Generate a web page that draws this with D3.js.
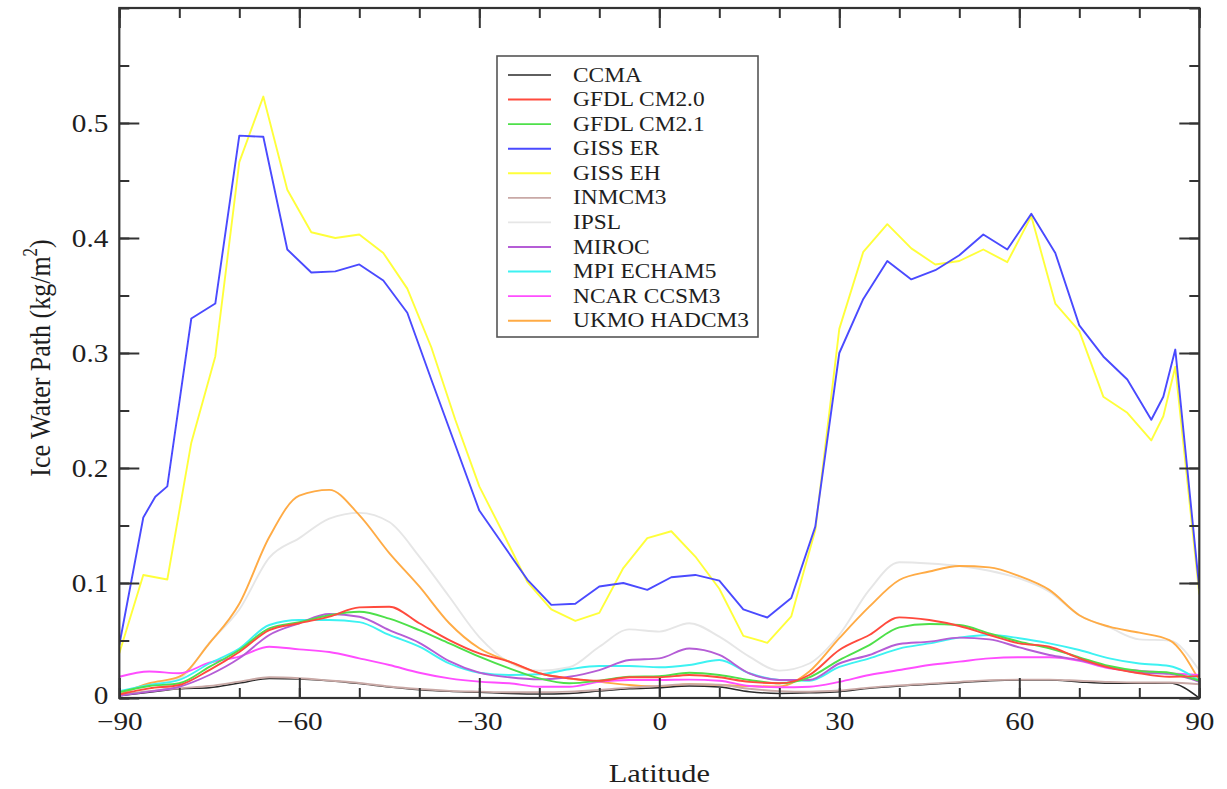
<!DOCTYPE html>
<html>
<head>
<meta charset="utf-8">
<script src="https://cdn.jsdelivr.net/npm/d3@7"></script>
<style>
  html, body { margin: 0; padding: 0; background: #fff; }
  svg { display: block; }
  text { font-family: "Liberation Serif", "Times New Roman", serif; fill: #1e1e1e; }
</style>
</head>
<body>
<script>
// Latitude grids (degrees)
const latGISS = [-90,-86,-84,-82,-78,-74,-70,-66,-62,-58,-54,-50,-46,-42,-38,-34,-30,-26,-22,-18,-14,-10,-6,-2,
                 2,6,10,14,18,22,26,30,34,38,42,46,50,54,58,62,66,70,74,78,82,84,86,90];
const lat5 = [-90,-85,-80,-75,-70,-65,-60,-55,-50,-45,-40,-35,-30,-25,-20,-15,-10,-5,0,
              5,10,15,20,25,30,35,40,45,50,55,60,65,70,75,80,85,90];

// Zonal mean ice water path (kg/m^2)
const giss_er = [0.046,0.157,0.175,0.184,0.330,0.343,0.489,0.488,0.390,0.370,0.371,0.377,0.363,0.335,0.277,0.220,
                 0.163,0.133,0.103,0.081,0.082,0.097,0.100,0.094,0.105,0.107,0.102,0.077,0.070,0.087,0.149,0.300,
                 0.347,0.380,0.364,0.372,0.385,0.403,0.390,0.421,0.387,0.324,0.297,0.277,0.242,0.262,0.303,0.095];
const giss_eh = [0.039,0.107,0.105,0.103,0.222,0.297,0.466,0.523,0.442,0.405,0.400,0.403,0.387,0.356,0.305,0.242,
                 0.184,0.143,0.101,0.077,0.067,0.074,0.113,0.139,0.145,0.123,0.095,0.054,0.048,0.071,0.146,0.321,
                 0.388,0.412,0.391,0.377,0.380,0.390,0.379,0.419,0.343,0.319,0.262,0.248,0.224,0.245,0.288,0.090];

const ccma    = [0.002,0.005,0.008,0.009,0.013,0.017,0.0165,0.015,0.0125,0.0095,0.0072,0.0058,0.005,0.004,0.0035,0.004,0.006,0.008,0.009,
                 0.0105,0.0095,0.0055,0.004,0.0045,0.0055,0.0085,0.0105,0.012,0.0133,0.015,0.0157,0.0157,0.014,0.0128,0.0128,0.013,0.0];
const gfdl20  = [0.003,0.0084,0.0113,0.0243,0.040,0.059,0.065,0.0707,0.0788,0.0794,0.065,0.0504,0.0388,0.0316,0.0215,0.0171,0.015,0.018,0.018,
                 0.020,0.018,0.014,0.0128,0.020,0.0417,0.0548,0.0701,0.0678,0.0626,0.0548,0.0475,0.0446,0.0345,0.0264,0.0215,0.0185,0.019];
const gfdl21  = [0.005,0.0104,0.0128,0.027,0.0417,0.0606,0.066,0.072,0.075,0.069,0.059,0.0475,0.036,0.0258,0.0171,0.0128,0.015,0.0185,0.019,
                 0.022,0.020,0.0157,0.0128,0.018,0.033,0.046,0.0614,0.0643,0.0635,0.0562,0.049,0.0432,0.0354,0.0278,0.0235,0.022,0.015];
const inmcm3  = [0.003,0.006,0.0085,0.0105,0.0142,0.018,0.0172,0.0152,0.013,0.010,0.0078,0.0062,0.0055,0.005,0.005,0.0055,0.007,0.009,0.0105,
                 0.012,0.0115,0.008,0.006,0.0055,0.0065,0.009,0.011,0.0125,0.014,0.0155,0.016,0.016,0.015,0.014,0.0135,0.0135,0.012];
const ipsl    = [0.005,0.012,0.017,0.048,0.077,0.122,0.139,0.156,0.161,0.153,0.123,0.088,0.053,0.031,0.0238,0.0267,0.0446,0.0597,0.0577,
                 0.065,0.0533,0.036,0.0238,0.030,0.055,0.094,0.118,0.117,0.1148,0.1107,0.104,0.0925,0.072,0.0614,0.051,0.050,0.024];
const miroc   = [0.002,0.0055,0.0098,0.020,0.0345,0.0548,0.065,0.073,0.0707,0.059,0.048,0.032,0.022,0.018,0.0162,0.0185,0.0243,0.033,0.0345,
                 0.043,0.0374,0.0215,0.0157,0.0157,0.030,0.0374,0.047,0.049,0.0525,0.051,0.044,0.0374,0.033,0.0267,0.022,0.021,0.014];
const mpi     = [0.006,0.0113,0.0157,0.030,0.043,0.0635,0.0678,0.0678,0.066,0.0548,0.0446,0.030,0.022,0.020,0.0206,0.025,0.0278,0.0278,0.0267,
                 0.0287,0.033,0.0215,0.0157,0.015,0.027,0.0345,0.043,0.0475,0.0525,0.0548,0.052,0.0475,0.0417,0.0345,0.030,0.0278,0.015];
const ncar    = [0.0185,0.023,0.0215,0.0307,0.036,0.0446,0.0423,0.040,0.0345,0.0287,0.022,0.0171,0.0142,0.0128,0.0098,0.0098,0.014,0.0157,0.0157,
                 0.016,0.015,0.0104,0.0093,0.0098,0.014,0.020,0.0243,0.0287,0.0316,0.0345,0.0354,0.0354,0.0324,0.0258,0.0238,0.0215,0.020];
const ukmo    = [0.003,0.0128,0.0185,0.0475,0.082,0.140,0.176,0.181,0.159,0.126,0.097,0.065,0.0432,0.0316,0.0215,0.017,0.014,0.0113,0.0098,
                 0.012,0.0113,0.0104,0.010,0.023,0.052,0.0794,0.1026,0.110,0.1148,0.1136,0.106,0.094,0.072,0.062,0.0568,0.0504,0.015];

const modelNames  = ["CCMA","GFDL CM2.0","GFDL CM2.1","GISS ER","GISS EH","INMCM3","IPSL","MIROC","MPI ECHAM5","NCAR CCSM3","UKMO HADCM3"];
const modelColors = ["#2a2a2a","#ff4a3d","#4ee04a","#4a4aff","#ffff3a","#c9a9a6","#e6e6e6","#b55dd6","#3df2f2","#ff4dff","#ffab45"];
const modelValues = [ccma, gfdl20, gfdl21, giss_er, giss_eh, inmcm3, ipsl, miroc, mpi, ncar, ukmo];
const modelLats   = [lat5, lat5, lat5, latGISS, latGISS, lat5, lat5, lat5, lat5, lat5, lat5];
const drawOrder   = [6, 10, 0, 5, 9, 8, 7, 2, 1, 4, 3];

const xTicksMajor = [-90,-60,-30,0,30,60,90];
const yTicksMajor = [0,0.1,0.2,0.3,0.4,0.5];

const W = 1227, H = 789;
const pL = 119.3, pR = 1199.3, pT = 8, pB = 698;
const SX = 1.17;   // horizontal stretch of the lettering

const svg = d3.select("body").append("svg").attr("width", W).attr("height", H);

const x = d3.scaleLinear().domain([-90, 90]).range([pL, pR]);
const y = d3.scaleLinear().domain([0, 0.6]).range([pB, pT]);

svg.append("clipPath").attr("id", "plotclip")
  .append("rect").attr("x", pL).attr("y", pT).attr("width", pR - pL).attr("height", pB - pT);

// series
const plot = svg.append("g").attr("clip-path", "url(#plotclip)");
drawOrder.forEach(i => {
  const lats = modelLats[i], vals = modelValues[i];
  const pts = lats.map((la, k) => [la, vals[k]]);
  const line = d3.line()
    .x(d => x(d[0])).y(d => y(d[1]))
    .curve(lats === latGISS ? d3.curveLinear : d3.curveMonotoneX);
  plot.append("path").datum(pts)
    .attr("d", line)
    .attr("fill", "none")
    .attr("stroke", modelColors[i])
    .attr("stroke-width", i === 0 ? 1.5 : 1.9)
    .attr("stroke-linejoin", "round");
});

// axes with inward ticks on all four sides
const xMinor = d3.range(-90, 91, 10);
const yMinor = d3.range(0, 0.6001, 0.05);

function axisTicks(axisGen, transform) {
  const g = svg.append("g").attr("transform", transform).call(axisGen);
  g.select(".domain").remove();
  g.selectAll("line").attr("stroke", "#333").attr("stroke-width", 2);
  g.selectAll("text").remove();
  return g;
}

const fmtX = d => (d < 0 ? "\u2212" + Math.abs(d) : String(d));
const fmtY = d => (d === 0 ? "0" : d3.format(".1f")(d));

// minor ticks
axisTicks(d3.axisTop(x).tickValues(xMinor).tickSize(10).tickFormat(""), `translate(0,${pB})`);
axisTicks(d3.axisBottom(x).tickValues(xMinor).tickSize(10).tickFormat(""), `translate(0,${pT})`);
axisTicks(d3.axisRight(y).tickValues(yMinor).tickSize(10).tickFormat(""), `translate(${pL},0)`);
axisTicks(d3.axisLeft(y).tickValues(yMinor).tickSize(10).tickFormat(""), `translate(${pR},0)`);
// major ticks
axisTicks(d3.axisTop(x).tickValues(xTicksMajor).tickSize(20).tickFormat(""), `translate(0,${pB})`);
axisTicks(d3.axisBottom(x).tickValues(xTicksMajor).tickSize(20).tickFormat(""), `translate(0,${pT})`);
axisTicks(d3.axisRight(y).tickValues(yTicksMajor).tickSize(20).tickFormat(""), `translate(${pL},0)`);
axisTicks(d3.axisLeft(y).tickValues(yTicksMajor).tickSize(20).tickFormat(""), `translate(${pR},0)`);

// tick labels
const xl = svg.append("g").attr("transform", `translate(0,${pB})`)
  .call(d3.axisBottom(x).tickValues(xTicksMajor).tickSize(0).tickPadding(14).tickFormat(fmtX));
xl.select(".domain").remove();
xl.selectAll("text")
  .style("font-family", "'Liberation Serif', serif").style("font-size", "25px").attr("fill", "#1e1e1e")
  .attr("transform", `scale(${SX},1)`);

const yl = svg.append("g").attr("transform", `translate(${pL},0)`)
  .call(d3.axisLeft(y).tickValues(yTicksMajor).tickSize(0).tickFormat(fmtY));
yl.select(".domain").remove();
yl.selectAll("text")
  .style("font-family", "'Liberation Serif', serif").style("font-size", "25px").attr("fill", "#1e1e1e")
  .attr("x", -11 / SX).attr("dy", d => (d === 0 ? "0.22em" : "0.33em"))
  .attr("transform", `scale(${SX},1)`);

// frame
svg.append("rect").attr("x", pL).attr("y", pT).attr("width", pR - pL).attr("height", pB - pT)
  .attr("fill", "none").attr("stroke", "#333").attr("stroke-width", 2.2);

// axis titles
svg.append("text").attr("transform", `translate(${(pL + pR) / 2},782) scale(${SX},1)`)
  .attr("text-anchor", "middle").style("font-size", "26px").text("Latitude");

const yt = svg.append("text").attr("transform", `translate(50,358) rotate(-90) scale(1,${SX})`)
  .attr("text-anchor", "middle").style("font-size", "26px");
yt.append("tspan").text("Ice Water Path (kg/m");
yt.append("tspan").attr("dy", -11).style("font-size", "17px").text("2");
yt.append("tspan").attr("dy", 11).text(")");

// legend
const lg = svg.append("g");
lg.append("rect").attr("x", 497).attr("y", 56).attr("width", 261).attr("height", 281)
  .attr("fill", "#fff").attr("stroke", "#555").attr("stroke-width", 1.6);
modelNames.forEach((name, i) => {
  const cy = 75 + i * 24.57;
  lg.append("line").attr("x1", 508).attr("x2", 551).attr("y1", cy).attr("y2", cy)
    .attr("stroke", modelColors[i]).attr("stroke-width", i === 0 ? 1.5 : 1.9);
  lg.append("text").attr("transform", `translate(573,${cy + 6.6}) scale(${SX},1)`)
    .style("font-size", "20px").text(name);
});
</script>
</body>
</html>
